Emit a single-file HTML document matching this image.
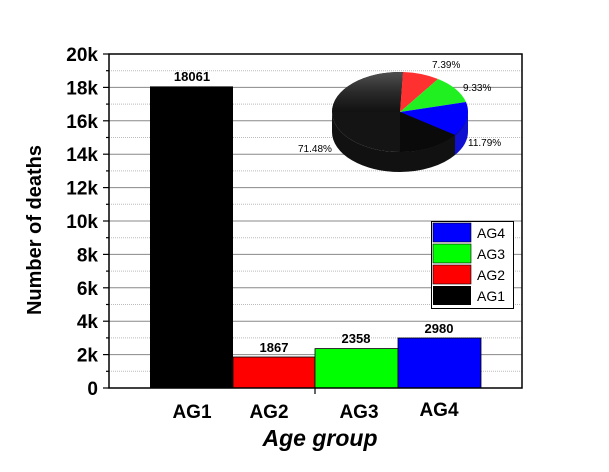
<!DOCTYPE html>
<html><head><style>body{margin:0;background:#fff}</style></head><body>
<svg width="609" height="467" xmlns="http://www.w3.org/2000/svg" font-family="Liberation Sans, Arial, sans-serif">
<defs><linearGradient id="g" x1="0" y1="0" x2="0" y2="1"><stop offset="0" stop-color="#505050"/><stop offset="0.5" stop-color="#2a2a2a"/><stop offset="1" stop-color="#111"/></linearGradient></defs>
<g stroke="#888" stroke-width="1">
<line x1="109" y1="87.4" x2="522" y2="87.4"/><line x1="109" y1="120.8" x2="522" y2="120.8"/><line x1="109" y1="154.2" x2="522" y2="154.2"/><line x1="109" y1="187.6" x2="522" y2="187.6"/><line x1="109" y1="221" x2="522" y2="221"/><line x1="109" y1="254.4" x2="522" y2="254.4"/><line x1="109" y1="287.8" x2="522" y2="287.8"/><line x1="109" y1="321.2" x2="522" y2="321.2"/><line x1="109" y1="354.6" x2="522" y2="354.6"/>
</g>
<g stroke="#bbb" stroke-width="1" stroke-dasharray="1,1">
<line x1="109" y1="70.7" x2="522" y2="70.7"/><line x1="109" y1="104.1" x2="522" y2="104.1"/><line x1="109" y1="137.5" x2="522" y2="137.5"/><line x1="109" y1="170.9" x2="522" y2="170.9"/><line x1="109" y1="204.3" x2="522" y2="204.3"/><line x1="109" y1="237.7" x2="522" y2="237.7"/><line x1="109" y1="271.1" x2="522" y2="271.1"/><line x1="109" y1="304.5" x2="522" y2="304.5"/><line x1="109" y1="337.9" x2="522" y2="337.9"/><line x1="109" y1="371.3" x2="522" y2="371.3"/>
</g>
<rect x="150" y="86.4" width="83" height="301.6" fill="#000"/>
<rect x="233" y="357" width="82" height="31" fill="#f00" stroke="#000" stroke-width="0.8"/>
<rect x="315" y="348.6" width="83" height="39.4" fill="#0f0" stroke="#000" stroke-width="0.8"/>
<rect x="398" y="338" width="83" height="50" fill="#00f" stroke="#000" stroke-width="0.8"/>
<g font-weight="bold" font-size="13" text-anchor="middle">
<text x="192" y="81">18061</text><text x="274" y="352">1867</text><text x="356" y="343">2358</text><text x="439" y="333">2980</text>
</g>
<rect x="109" y="54" width="413" height="334" fill="none" stroke="#000" stroke-width="1.5"/>
<g stroke="#000" stroke-width="1.2">
<line x1="103" y1="54" x2="109" y2="54"/><line x1="103" y1="87.4" x2="109" y2="87.4"/><line x1="103" y1="120.8" x2="109" y2="120.8"/><line x1="103" y1="154.2" x2="109" y2="154.2"/><line x1="103" y1="187.6" x2="109" y2="187.6"/><line x1="103" y1="221" x2="109" y2="221"/><line x1="103" y1="254.4" x2="109" y2="254.4"/><line x1="103" y1="287.8" x2="109" y2="287.8"/><line x1="103" y1="321.2" x2="109" y2="321.2"/><line x1="103" y1="354.6" x2="109" y2="354.6"/><line x1="103" y1="388" x2="109" y2="388"/>
<line x1="106" y1="70.7" x2="109" y2="70.7"/><line x1="106" y1="104.1" x2="109" y2="104.1"/><line x1="106" y1="137.5" x2="109" y2="137.5"/><line x1="106" y1="170.9" x2="109" y2="170.9"/><line x1="106" y1="204.3" x2="109" y2="204.3"/><line x1="106" y1="237.7" x2="109" y2="237.7"/><line x1="106" y1="271.1" x2="109" y2="271.1"/><line x1="106" y1="304.5" x2="109" y2="304.5"/><line x1="106" y1="337.9" x2="109" y2="337.9"/><line x1="106" y1="371.3" x2="109" y2="371.3"/>
<line x1="315" y1="388" x2="315" y2="394"/>
</g>
<g font-weight="bold" font-size="19" text-anchor="end">
<text x="98" y="61">20k</text><text x="98" y="94.4">18k</text><text x="98" y="127.8">16k</text><text x="98" y="161.2">14k</text><text x="98" y="194.6">12k</text><text x="98" y="228">10k</text><text x="98" y="261.4">8k</text><text x="98" y="294.8">6k</text><text x="98" y="328.2">4k</text><text x="98" y="361.6">2k</text><text x="98" y="395">0</text>
</g>
<text transform="translate(41,230) rotate(-90)" font-weight="bold" font-size="20" text-anchor="middle">Number of deaths</text>
<g font-weight="bold" font-size="19" text-anchor="middle">
<text x="192" y="418">AG1</text><text x="269" y="418">AG2</text><text x="359" y="418">AG3</text><text x="439" y="416">AG4</text>
</g>
<text x="320" y="446" font-style="italic" font-weight="bold" font-size="23" text-anchor="middle">Age group</text>
<path d="M332,112 A68,40 0 0 0 400,152 L400,172 A68,40 0 0 1 332,132 Z" fill="#111"/>
<path d="M400,152 A68,40 0 0 0 455,135 L455,155 A68,40 0 0 1 400,172 Z" fill="#111"/>
<path d="M455,135 A68,40 0 0 0 468,112 L468,132 A68,40 0 0 1 455,155 Z" fill="#1010d0"/>
<path d="M400,112 L468,112 A68,40 0 0 1 400,152 A68,40 0 0 1 332,112 A68,40 0 0 1 403,72 Z" fill="#141414"/>
<path d="M400,112 L403,72 A68,40 0 0 0 332,112 Z" fill="url(#g)"/>
<path d="M400,112 L403,72 A68,40 0 0 1 438,79 Z" fill="#ff3030"/>
<path d="M400,112 L438,79 A68,40 0 0 1 466,102 Z" fill="#20f020"/>
<path d="M400,112 L466,102 A68,40 0 0 1 468,112 A68,40 0 0 1 455,135 Z" fill="#0000ff"/>
<path d="M400,112 L455,135 A68,40 0 0 1 400,152 Z" fill="#0a0a0a"/>
<g font-size="10">
<text x="432" y="68">7.39%</text><text x="463" y="91">9.33%</text><text x="468" y="146">11.79%</text><text x="298" y="152">71.48%</text>
</g>
<rect x="431.5" y="221.5" width="82" height="87" fill="#fff" stroke="#000"/>
<rect x="433" y="223" width="38" height="19" fill="#00f" stroke="#000" stroke-width="0.6"/>
<rect x="433" y="244" width="38" height="19" fill="#0f0" stroke="#000" stroke-width="0.6"/>
<rect x="433" y="265" width="38" height="19" fill="#f00" stroke="#000" stroke-width="0.6"/>
<rect x="433" y="286" width="38" height="19" fill="#000"/>
<g font-size="14"><text x="477" y="238">AG4</text><text x="477" y="259">AG3</text><text x="477" y="280">AG2</text><text x="477" y="301">AG1</text></g>
</svg>
</body></html>
